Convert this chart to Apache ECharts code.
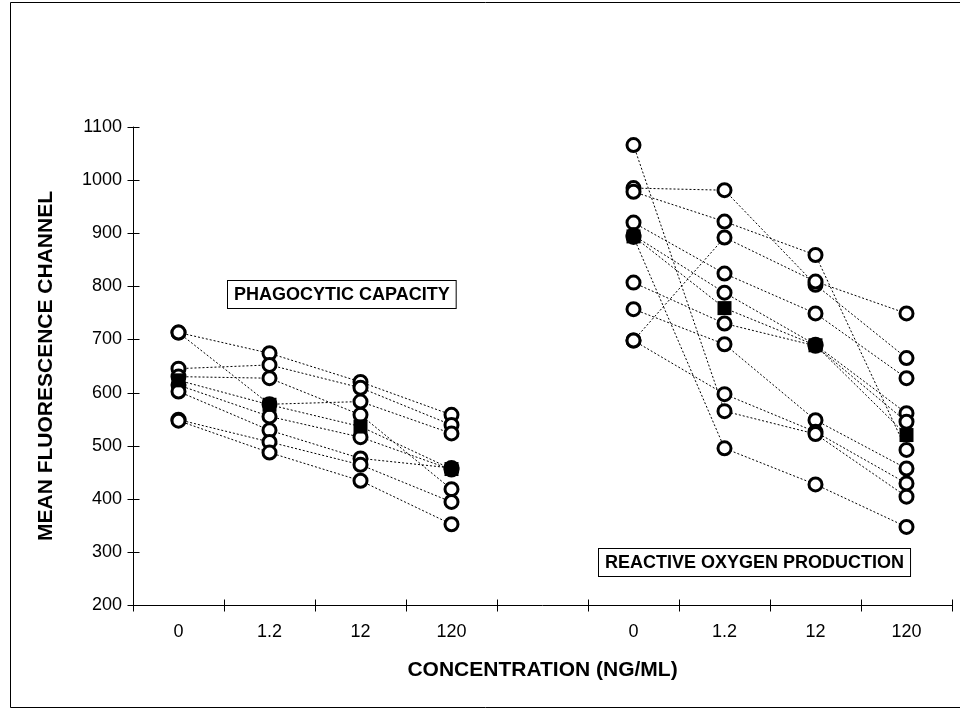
<!DOCTYPE html>
<html>
<head>
<meta charset="utf-8">
<script src="https://cdn.jsdelivr.net/npm/echarts@6/dist/echarts.min.js"></script>
<style>
html,body{margin:0;padding:0;background:#fff;}
#chart{width:960px;height:714px;}
</style>
</head>
<body>
<div id="chart"></div>
<script>
// ---- data ----
const categories = ['0', '1.2', '12', '120', '', '0', '1.2', '12', '120'];
const yMin = 200, yMax = 1100, yStep = 100;
const yTickValues = [200, 300, 400, 500, 600, 700, 800, 900, 1000, 1100];

// Phagocytic capacity: individual subjects at 0, 1.2, 12, 120 ng/ml
const phago1 = [713, 674, 620, 558];
const phago2 = [645, 652, 609, 539];
const phago3 = [630, 627, 558, 418];
const phago4 = [713, 578, 583, 523];
const phago5 = [614, 555, 516, 455];
const phago6 = [602, 529, 476, 458];
const phago7 = [549, 507, 464, 394];
const phago8 = [547, 487, 434, 352];
const phagoMean = [623, 577, 536, 456];

// Reactive oxygen production: individual subjects
const react1 = [985, 981, 803, 665];
const react2 = [978, 922, 859, 492];
const react3 = [698, 892, 809, 749];
const react4 = [920, 824, 749, 627];
const react5 = [896, 788, 690, 561];
const react6 = [807, 730, 688, 545];
const react7 = [757, 691, 548, 457];
const react8 = [698, 597, 526, 429];
const react9 = [1066, 565, 522, 404];
const react10 = [893, 495, 427, 347];
const reactMean = [894, 759, 689, 520];

const phagoLabel = 'PHAGOCYTIC CAPACITY';
const reactLabel = 'REACTIVE OXYGEN PRODUCTION';
const yName = 'MEAN FLUORESCENCE CHANNEL';
const xName = 'CONCENTRATION (NG/ML)';

// ---- build ----
const FONT = "'Liberation Sans', Arial, sans-serif";
const phagoSubjects = [phago1, phago2, phago3, phago4, phago5, phago6, phago7, phago8];
const reactSubjects = [react1, react2, react3, react4, react5, react6, react7, react8, react9, react10];

function pad(vals, offset) {
  const out = categories.map(() => '-');
  vals.forEach((v, i) => { out[offset + i] = v; });
  return out;
}
function points(vals, offset) {
  return vals.map((v, i) => [offset + i, v]);
}

const lineStyle = { color: '#000', width: 1, type: [2, 2] };
const series = [];
function addLines(list, offset) {
  list.forEach(vals => {
    series.push({
      type: 'line', data: pad(vals, offset), symbol: 'none',
      lineStyle: lineStyle, z: 2, silent: true, animation: false
    });
  });
}
addLines(phagoSubjects, 0);
addLines(reactSubjects, 5);
addLines([phagoMean], 0);
addLines([reactMean], 5);

let circlePts = [];
phagoSubjects.forEach(v => { circlePts = circlePts.concat(points(v, 0)); });
reactSubjects.forEach(v => { circlePts = circlePts.concat(points(v, 5)); });
series.push({
  type: 'scatter', data: circlePts, symbol: 'circle', symbolSize: 13,
  itemStyle: { color: '#fff', borderColor: '#000', borderWidth: 3, opacity: 1 },
  z: 3, silent: true, animation: false
});
series.push({
  type: 'scatter', data: points(phagoMean, 0).concat(points(reactMean, 5)),
  symbol: 'rect', symbolSize: 14,
  itemStyle: { color: '#000', opacity: 1 },
  z: 4, silent: true, animation: false
});

// cross ticks on the y axis (through the library's scale)
series.push({
  type: 'custom', coordinateSystem: 'cartesian2d', clip: false, silent: true, z: 5,
  data: yTickValues.map(v => [0, v]),
  encode: { x: 0, y: 1 },
  renderItem: function (params, api) {
    const y = Math.round(api.coord([0, api.value(1)])[1]) + 0.5;
    const x0 = params.coordSys.x + 0.5;
    return { type: 'line', shape: { x1: x0 - 6, y1: y, x2: x0 + 6, y2: y },
             style: { stroke: '#000', lineWidth: 1 } };
  }
});
// cross ticks on the x axis at category boundaries
const xTickItems = categories.map((c, i) => [i, -1]).concat([[categories.length - 1, 1]]);
series.push({
  type: 'custom', coordinateSystem: 'cartesian2d', clip: false, silent: true, z: 5,
  data: xTickItems.map(d => [d[0], yMin, d[1]]),
  encode: { x: 0, y: 1 },
  renderItem: function (params, api) {
    const c = api.coord([api.value(0), api.value(1)]);
    const band = api.size([1, 0])[0];
    const x = Math.round(c[0] + api.value(2) * band / 2) + 0.5;
    const y0 = Math.round(c[1]) + 0.5;
    return { type: 'line', shape: { x1: x, y1: y0 - 6, x2: x, y2: y0 + 6 },
             style: { stroke: '#000', lineWidth: 1 } };
  }
});

const axisLine = { show: true, lineStyle: { color: '#000', width: 1 } };

const option = {
  backgroundColor: '#fff',
  animation: false,
  grid: { left: 133, right: 8, top: 127, bottom: 109, containLabel: false },
  xAxis: {
    type: 'category', data: categories, boundaryGap: true, position: 'bottom',
    axisLine: axisLine,
    axisTick: { show: false },
    axisLabel: { color: '#000', fontSize: 18, fontFamily: FONT, margin: 18 },
    name: xName, nameLocation: 'middle', nameGap: 55,
    nameTextStyle: { color: '#000', fontSize: 21, fontWeight: 'bold', fontFamily: FONT },
    splitLine: { show: false }
  },
  yAxis: {
    type: 'value', min: yMin, max: yMax, interval: yStep, position: 'left',
    axisLine: axisLine,
    axisTick: { show: false },
    axisLabel: { color: '#000', fontSize: 18, fontFamily: FONT, margin: 11,
                 formatter: v => String(v) },
    name: yName, nameLocation: 'middle', nameRotate: 90, nameGap: 76,
    nameTextStyle: { color: '#000', fontSize: 21, fontWeight: 'bold', fontFamily: FONT },
    splitLine: { show: false }
  },
  graphic: [
    {
      type: 'rect', left: 8, top: 0, silent: true,
      shape: { x: 0.5, y: 0.5, width: 950, height: 705 },
      style: { fill: 'none', stroke: '#000', lineWidth: 1 }
    },
    {
      type: 'text', left: 227, top: 280, silent: true, z: 10,
      style: {
        text: phagoLabel, font: "bold 18px 'Liberation Sans', Arial, sans-serif",
        fill: '#000', backgroundColor: '#fff', borderColor: '#000', borderWidth: 1,
        padding: [5, 6, 4, 6]
      }
    },
    {
      type: 'text', left: 598, top: 548, silent: true, z: 10,
      style: {
        text: reactLabel, font: "bold 18px 'Liberation Sans', Arial, sans-serif",
        fill: '#000', backgroundColor: '#fff', borderColor: '#000', borderWidth: 1,
        padding: [5, 6, 4, 6]
      }
    }
  ],
  series: series
};

const chart = echarts.init(document.getElementById('chart'), null, { renderer: 'canvas' });
chart.setOption(option);
</script>
</body>
</html>
